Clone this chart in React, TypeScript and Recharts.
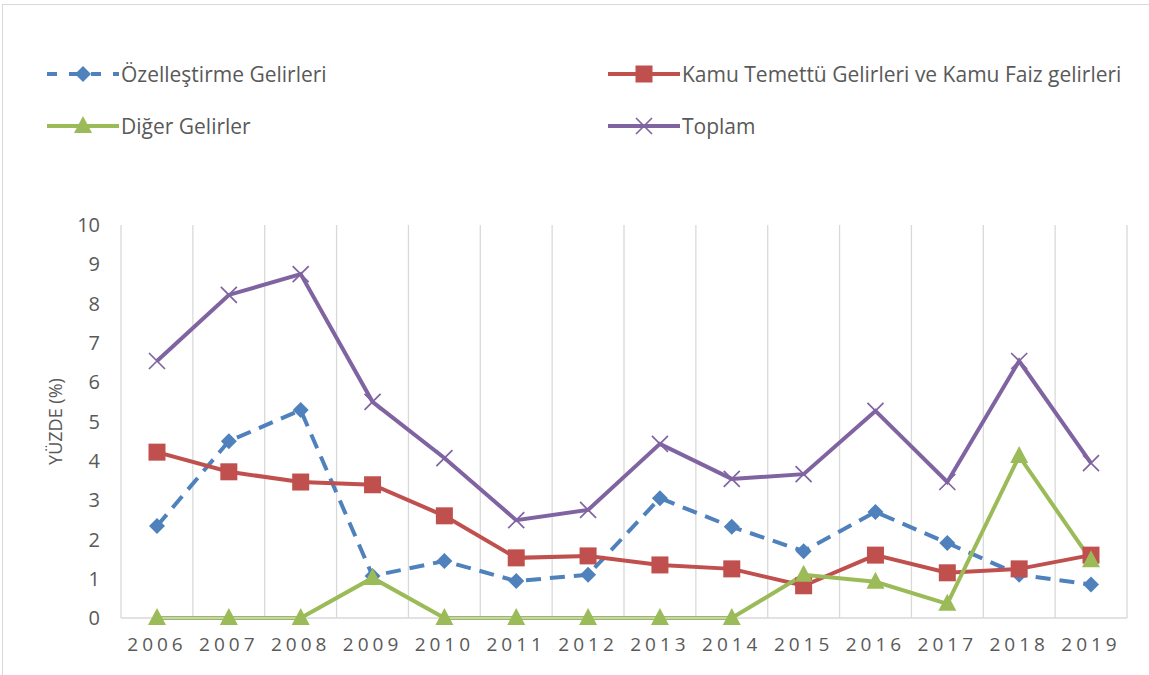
import React from 'react';
import { LineChart, Line, XAxis, YAxis, CartesianGrid } from 'recharts';

// --- Gelir kalemleri, GSYH'ye oran (%) ---
const years = ['2006', '2007', '2008', '2009', '2010', '2011', '2012', '2013', '2014', '2015', '2016', '2017', '2018', '2019'];
const ozellestirme = [2.34, 4.5, 5.29, 1.07, 1.45, 0.94, 1.1, 3.05, 2.32, 1.7, 2.7, 1.91, 1.1, 0.85];
const kamuTemettu = [4.22, 3.72, 3.46, 3.39, 2.6, 1.53, 1.58, 1.35, 1.25, 0.82, 1.6, 1.15, 1.25, 1.6];
const digerGelirler = [0, 0, 0, 1.02, 0, 0, 0, 0, 0, 1.1, 0.92, 0.36, 4.12, 1.47];
const toplam = [6.54, 8.22, 8.75, 5.5, 4.07, 2.49, 2.75, 4.43, 3.54, 3.66, 5.27, 3.46, 6.54, 3.94];
const yTicks = [0, 1, 2, 3, 4, 5, 6, 7, 8, 9, 10];

const data = years.map((year, i) => ({
  year,
  ozel: ozellestirme[i],
  kamu: kamuTemettu[i],
  diger: digerGelirler[i],
  toplam: toplam[i],
}));

const BLUE = '#4f81bd';
const RED = '#c0504d';
const GREEN = '#9bbb59';
const PURPLE = '#8064a2';
const TEXT = '#595959';
const GRID = '#d9d9d9';
const FONT = '"Open Sans", sans-serif';

const Diamond = ({ cx, cy }: any) => (
  <path d={`M${cx},${cy - 8} L${cx + 8},${cy} L${cx},${cy + 8} L${cx - 8},${cy} Z`} fill={BLUE} />
);
const Square = ({ cx, cy }: any) => <rect x={cx - 8.5} y={cy - 8.5} width={17} height={17} fill={RED} />;
const Triangle = ({ cx, cy }: any) => (
  <path d={`M${cx},${cy - 10} L${cx + 9},${cy + 7} L${cx - 9},${cy + 7} Z`} fill={GREEN} />
);
const Cross = ({ cx, cy }: any) => (
  <path d={`M${cx - 8},${cy - 8} L${cx + 8},${cy + 8} M${cx + 8},${cy - 8} L${cx - 8},${cy + 8}`} stroke={PURPLE} strokeWidth={1.7} fill="none" />
);

const series = [
  { key: 'ozel', name: 'Özelleştirme Gelirleri', color: BLUE, dash: '15 9', Dot: Diamond },
  { key: 'kamu', name: 'Kamu Temettü Gelirleri ve Kamu Faiz gelirleri', color: RED, dash: undefined, Dot: Square },
  { key: 'diger', name: 'Diğer Gelirler', color: GREEN, dash: undefined, Dot: Triangle },
  { key: 'toplam', name: 'Toplam', color: PURPLE, dash: undefined, Dot: Cross },
];

const legendPos = [
  { left: 45, top: 74 },
  { left: 606, top: 74 },
  { left: 45, top: 126 },
  { left: 606, top: 126 },
];

const LegendIcon = ({ s }: any) => (
  <svg width={76} height={22} style={{ display: 'block' }}>
    <line x1={2} y1={11} x2={74} y2={11} stroke={s.color} strokeWidth={4} strokeDasharray={s.dash ? '10 12' : undefined} />
    <s.Dot cx={38} cy={11} />
  </svg>
);

const YLabel = (props: any) => {
  const { viewBox } = props;
  const x = viewBox.x + 14;
  const y = viewBox.y + viewBox.height / 2;
  return (
    <text x={x} y={y} transform={`rotate(-90 ${x} ${y})`} textAnchor="middle" dominantBaseline="central" fill={TEXT} fontSize={18} fontFamily={FONT}>
      YÜZDE (%)
    </text>
  );
};

export default function App() {
  return (
    <div style={{ position: 'absolute', left: 0, top: 0, width: 1149, height: 675, background: '#fff', fontFamily: FONT }}>
      <div style={{ position: 'absolute', left: 2, top: 4, width: 1150, height: 680, border: `1px solid ${GRID}` }} />
      <LineChart width={1149} height={675} data={data} margin={{ top: 225, right: 22, bottom: 27, left: 41 }}>
        <CartesianGrid
          horizontal={false}
          stroke={GRID}
          strokeWidth={1.3}
          verticalCoordinatesGenerator={({ offset }: any) =>
            Array.from({ length: years.length + 1 }, (_, i) => offset.left + (i * offset.width) / years.length)
          }
        />
        <XAxis
          dataKey="year"
          height={30}
          padding={{ left: 36, right: 36 }}
          tickLine={false}
          tickSize={0}
          tickMargin={20}
          axisLine={{ stroke: GRID, strokeWidth: 1.3 }}
          tick={{ fontSize: 19, fill: TEXT, fontFamily: FONT, letterSpacing: 4 }}
          interval={0}
        />
        <YAxis
          width={80}
          domain={[0, 10]}
          ticks={yTicks}
          interval={0}
          tickLine={false}
          axisLine={false}
          tickSize={0}
          tickMargin={21}
          tick={{ fontSize: 20, fill: TEXT, fontFamily: FONT }}
          label={{ content: YLabel }}
        />
        {series.map((s) => (
          <Line
            key={s.key}
            dataKey={s.key}
            name={s.name}
            type="linear"
            stroke={s.color}
            strokeWidth={4}
            strokeDasharray={s.dash}
            dot={<s.Dot />}
            activeDot={false}
            isAnimationActive={false}
          />
        ))}
      </LineChart>
      {series.map((s, i) => (
        <div
          key={s.key}
          style={{ position: 'absolute', left: legendPos[i].left, top: legendPos[i].top - 13, display: 'flex', alignItems: 'center', height: 26 }}
        >
          <LegendIcon s={s} />
          <span style={{ fontSize: 21, color: TEXT, marginLeft: 0, whiteSpace: 'nowrap' }}>{s.name}</span>
        </div>
      ))}
    </div>
  );
}
